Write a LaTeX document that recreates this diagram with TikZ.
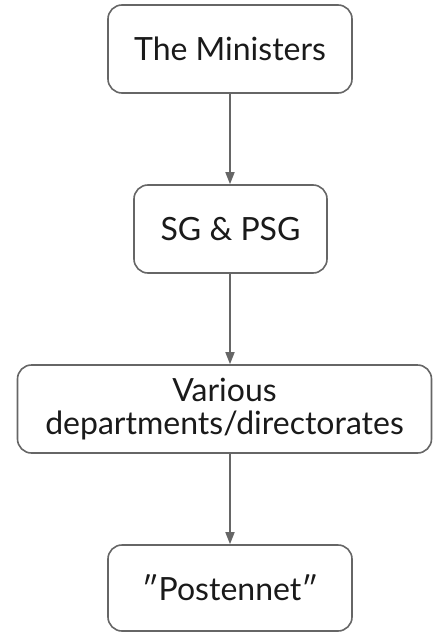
\documentclass[tikz,border=0pt]{standalone}
\usepackage{fontspec}
\setmainfont{Lato}
\usetikzlibrary{arrows.meta}
\definecolor{edgegray}{HTML}{666666}
\definecolor{inkblack}{HTML}{1A1A1A}
\tikzset{
  orgbox/.style={draw=edgegray, line width=1.6pt, rounded corners=14pt, fill=white,
    text=inkblack, align=center, inner sep=0pt,
    font=\fontsize{32}{33}\selectfont},
  link/.style={draw=edgegray, line width=1.6pt, -{Triangle[length=12pt,width=9pt]}}
}
\begin{document}
\begin{tikzpicture}[x=1pt,y=-1pt]
  \useasboundingbox (0,0) rectangle (433,632);
  \node[orgbox, minimum width=244pt, minimum height=88pt] (min) at (230,49) {The Ministers};
  \node[orgbox, minimum width=193pt, minimum height=88pt] (sg) at (230.5,229) {SG \& PSG};
  \node[orgbox, minimum width=414pt, minimum height=88pt] (dep) at (224.5,409) {Various\\departments/directorates};
  \node[orgbox, minimum width=244pt, minimum height=86pt] (post) at (230,588) {″Postennet″};
  \draw[link] (min.south -| 230,0) -- (sg.north -| 230,0);
  \draw[link] (sg.south -| 230,0) -- (dep.north -| 230,0);
  \draw[link] (dep.south -| 230,0) -- (post.north -| 230,0);
\end{tikzpicture}
\end{document}
